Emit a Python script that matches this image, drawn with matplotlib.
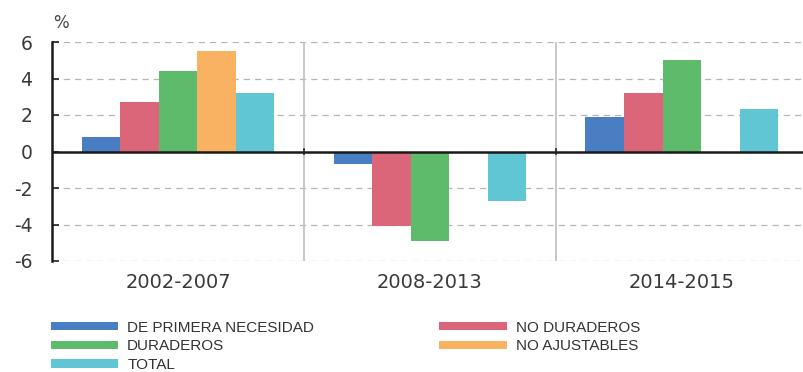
import matplotlib.pyplot as plt
import numpy as np

periods = ["2002-2007", "2008-2013", "2014-2015"]
series = ["DE PRIMERA NECESIDAD", "NO DURADEROS", "DURADEROS", "NO AJUSTABLES", "TOTAL"]
primera = [0.8, -0.7, 1.9]
no_duraderos = [2.7, -4.1, 3.2]
duraderos = [4.4, -4.9, 5.0]
no_ajustables = [5.5, 0.0, -0.1]
total = [3.2, -2.7, 2.35]
yticks = [-6, -4, -2, 0, 2, 4, 6]

colors = ["#4a7ec2", "#db6679", "#5dbb6b", "#f8b261", "#60c6d3"]
values = [primera, no_duraderos, duraderos, no_ajustables, total]

plt.rcParams['font.family'] = ['DejaVu Sans']

dpi = 100
fig = plt.figure(dpi=dpi, figsize=(804 / dpi, 372 / dpi))
ax = fig.add_axes([52 / 804, 1 - 261 / 372, 752 / 804, 219 / 372])

x = np.arange(len(periods))
w = 0.153
bars = []
for i, (vals, c) in enumerate(zip(values, colors)):
    b = ax.bar(x + (i - 2) * w, vals, w, color=c, linewidth=0, zorder=3)
    bars.append(b)

ax.set_xlim(-0.5, 2.485)
ax.set_ylim(-6, 6)
ax.set_yticks(yticks)
ax.set_yticklabels([str(t) for t in yticks], fontsize=13.5, color="#3a3a3a")
ax.tick_params(axis='y', direction='in', length=5, width=1.2, color='#222222', pad=14)
ax.set_xticks([])

# dashed grid, solid zero line and grey separators between periods
for t in yticks:
    if t != 0:
        ax.axhline(t, color='#b5b5b5', lw=0.9, ls=(0, (5, 4)), zorder=1)
ax.axhline(0, color='#1a1a1a', lw=1.8, zorder=4)
for sep in [0.5, 1.5]:
    ax.axvline(sep, color='#c4c4c4', lw=1.3, zorder=1)
    ax.plot([sep, sep], [-0.12, 0.12], color='#222222', lw=1.2, zorder=5)

for s in ['top', 'right', 'bottom']:
    ax.spines[s].set_visible(False)
ax.spines['left'].set_linewidth(1.8)
ax.spines['left'].set_color('#1a1a1a')

for xi, p in zip(x, periods):
    ax.text(xi, -7.2, p, ha='center', va='center', fontsize=14, color='#3a3a3a')

fig.text(53 / 804, 1 - 23 / 372, "%", fontsize=12, color='#444444', va='center')

order = [0, 2, 4, 1, 3]
leg = fig.legend([bars[i] for i in order], [series[i] for i in order],
                 ncol=2, loc='upper left', bbox_to_anchor=(37 / 804, 1 - 307 / 372),
                 frameon=False, handlelength=4.4, handleheight=0.45,
                 handletextpad=0.6, columnspacing=8.2, labelspacing=0.3,
                 prop={'family': ['Liberation Sans', 'DejaVu Sans'], 'size': 11})
for t in leg.get_texts():
    t.set_color('#333333')

fig.savefig('out.png', dpi=dpi)
